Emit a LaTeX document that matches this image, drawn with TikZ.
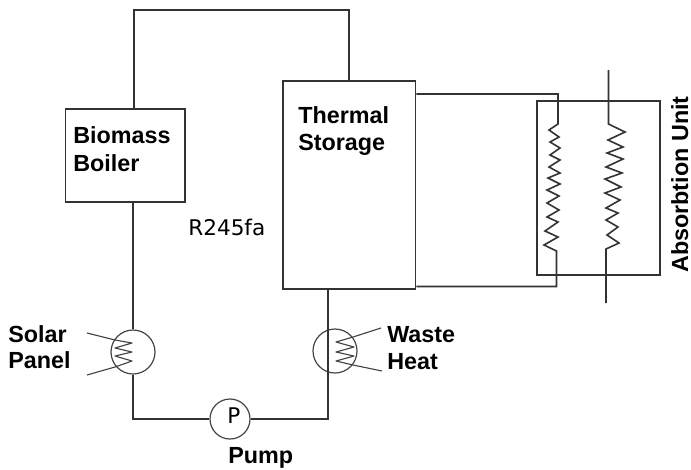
\documentclass[tikz,border=0pt]{standalone}
\usepackage{fontspec}
\setmainfont{Liberation Sans}
\newfontfamily\plainfont{DejaVu Sans}
\definecolor{ln}{HTML}{333333}
\definecolor{thin}{HTML}{444444}
\tikzset{
  pipe/.style={draw=ln,line width=1.2pt,line join=miter},
  thinpipe/.style={draw=thin,line width=0.85pt,line join=round},
  unitbox/.style={draw=ln,line width=1.2pt,fill=white,inner sep=0pt,minimum width=#1},
  vessel/.style={circle,draw=thin,line width=0.9pt,inner sep=0pt,minimum size=#1},
  lab/.style={inner sep=0pt,align=left,font=\fontsize{17.5}{21}\bfseries\selectfont},
  plain/.style={inner sep=0pt,font=\fontsize{16.2}{20}\plainfont}
}
\begin{document}
\begin{tikzpicture}[x=0.75pt,y=-0.75pt]
\useasboundingbox (0,0) rectangle (691,469);
% equipment
\node[unitbox=119.5*0.75pt,minimum height=93*0.75pt] (boiler) at (125.25,155.5) {};
\node[unitbox=132.5*0.75pt,minimum height=208*0.75pt] (thermal) at (349.25,185) {};
\node[vessel=44*0.75pt] (solar) at (133,352) {};
\node[vessel=44*0.75pt] (waste) at (335,351) {};
\node[vessel=40*0.75pt] (pump) at (230,419) {};
\node[draw=ln,line width=1.2pt,inner sep=0pt,minimum width=123*0.75pt,minimum height=174*0.75pt] (absorb) at (598.5,188) {};
% junction points
\coordinate (topL) at (134,10);
\coordinate (botL) at (133.5,418);
\coordinate (botR) at (328,418);
\coordinate (hxTopIn) at (558,94);
\coordinate (hxTop) at (558,124);
\coordinate (hxBotOut) at (556.5,286.5);
\coordinate (hxBot) at (556.5,251);
\coordinate (cwTopEnd) at (608.5,70);
\coordinate (cwTop) at (608.5,124);
\coordinate (cwBot) at (606,249);
\coordinate (cwBotEnd) at (606,303);
\coordinate (sA) at (87,333);
\coordinate (sB) at (87,375);
\coordinate (wA) at (381,328);
\coordinate (wB) at (382,371);
% main loop
\draw[pipe] (boiler.north -| topL) -- (topL) -| (thermal.north);
\draw[pipe] (boiler.south -| solar.north) -- (solar.north);
\draw[pipe] (solar.south) |- (pump.west);
\draw[pipe] (pump.east) -- (pump.east -| botR) -- (thermal.south -| botR);
% thermal storage to absorption unit
\draw[pipe] (thermal.east |- hxTopIn) -- (hxTopIn) -- (hxTop)
  -- (549,130) -- (559,137) -- (550,142) -- (560,148) -- (550,155) -- (560,160)
  -- (549,167) -- (560,173) -- (548,178) -- (560,184) -- (547,190) -- (559,196)
  -- (547,203) -- (559,210) -- (547,217) -- (558,222) -- (545,231) -- (558,237)
  -- (544,245) -- (hxBot) -- (hxBotOut) -- (thermal.east |- hxBotOut);
% cooling circuit
\draw[pipe] (cwTopEnd) -- (cwTop)
  -- (625,132) -- (608,140) -- (623,147) -- (607,153) -- (623,159) -- (606,167)
  -- (622,173) -- (605,179) -- (621,187) -- (605,193) -- (620,200) -- (606,208)
  -- (618,213) -- (606,220) -- (618,227) -- (607,235) -- (619,243) -- (cwBot) -- (cwBotEnd);
% coils
\draw[thinpipe] (sA) -- (115,340) -- (132,343) -- (115,348) -- (132,352) -- (115,356) -- (132,361) -- (115,367) -- (sB);
\draw[thinpipe] (wA) -- (353,337) -- (336,342) -- (354,347) -- (336,352) -- (354,356) -- (336,361) -- (353,365) -- (wB);
% labels
\node[lab,anchor=base west] (tBio) at (73,143) {Biomass};
\node[lab,anchor=base west] (tBoi) at (73,171) {Boiler};
\node[lab,anchor=base west] (tThe) at (298,123) {Thermal};
\node[lab,anchor=base west] (tSto) at (298,150) {Storage};
\node[lab,anchor=base west] (tSol) at (8,342) {Solar};
\node[lab,anchor=base west] (tPan) at (8,368) {Panel};
\node[lab,anchor=base west] (tWas) at (387,342) {Waste};
\node[lab,anchor=base west] (tHea) at (387,369) {Heat};
\node[lab,anchor=base west] (tPum) at (228,463) {Pump};
\node[plain,anchor=base west] (tRef) at (188,235) {R245fa};
\node[plain,anchor=base] (tP) at (234,423) {P};
\node[lab,anchor=base west,rotate=90] (tAbs) at (688,273) {Absorbtion Unit};
\end{tikzpicture}
\end{document}
